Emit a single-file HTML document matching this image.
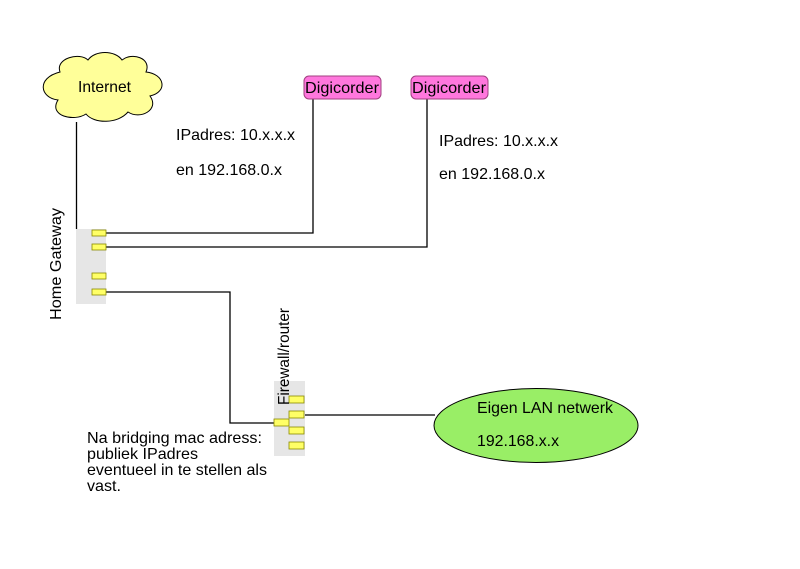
<!DOCTYPE html>
<html><head><style>html,body{margin:0;padding:0;background:#fff}</style></head><body>
<svg width="800" height="564" viewBox="0 0 800 564" xmlns="http://www.w3.org/2000/svg" font-family="Liberation Sans, sans-serif" font-size="16">
<rect width="800" height="564" fill="#fff"/>
<path d="M60,72 C55,58 80,52 88,60 C95,50 115,50 122,60 C132,52 152,58 146,72 C165,74 168,92 150,96 C160,110 140,120 128,112 C118,124 94,124 86,114 C74,122 48,116 58,100 C40,98 36,78 60,72 Z" fill="#ffff99" stroke="#000" stroke-width="1"/>
<text x="78" y="92" textLength="53" lengthAdjust="spacingAndGlyphs">Internet</text>
<g fill="none" stroke="#000" stroke-width="1.3">
<path d="M76.5,122 V229"/>
<path d="M106,233 H313 V98"/>
<path d="M106,247 H427 V98"/>
<path d="M106,292 H230 V423 H274"/>
<path d="M304,415 H435"/>
</g>
<rect x="76" y="229" width="30" height="75" fill="#e6e6e6"/>
<g fill="#ffff66" stroke="#8a8a00" stroke-width="0.8">
<rect x="92" y="230" width="14" height="6"/><rect x="92" y="244" width="14" height="6"/>
<rect x="92" y="273" width="14" height="6"/><rect x="92" y="289" width="14" height="6"/>
</g>
<text transform="translate(61,320) rotate(-90)" textLength="112" lengthAdjust="spacingAndGlyphs">Home Gateway</text>
<rect x="274" y="381" width="31" height="75" fill="#e6e6e6"/>
<g fill="#ffff66" stroke="#8a8a00" stroke-width="0.8">
<rect x="289" y="396" width="15" height="7"/><rect x="289" y="411" width="15" height="7"/>
<rect x="289" y="427" width="15" height="7"/><rect x="289" y="442" width="15" height="7"/>
<rect x="274" y="419" width="15" height="7"/>
</g>
<text transform="translate(289,405) rotate(-90)" textLength="97" lengthAdjust="spacingAndGlyphs">Firewall/router</text>
<rect x="304" y="76" width="77" height="23" rx="5" fill="#ff77dd" stroke="#a04080"/>
<text x="305" y="93" textLength="74" lengthAdjust="spacingAndGlyphs">Digicorder</text>
<rect x="411" y="76" width="77" height="23" rx="5" fill="#ff77dd" stroke="#a04080"/>
<text x="412" y="93" textLength="74" lengthAdjust="spacingAndGlyphs">Digicorder</text>
<text x="176" y="140" textLength="119" lengthAdjust="spacingAndGlyphs">IPadres: 10.x.x.x</text>
<text x="176" y="175" textLength="106" lengthAdjust="spacingAndGlyphs">en 192.168.0.x</text>
<text x="439" y="146" textLength="119" lengthAdjust="spacingAndGlyphs">IPadres: 10.x.x.x</text>
<text x="439" y="179" textLength="106" lengthAdjust="spacingAndGlyphs">en 192.168.0.x</text>
<ellipse cx="536" cy="425.5" rx="102" ry="37" fill="#99ee66" stroke="#000"/>
<text x="477" y="413" textLength="136" lengthAdjust="spacingAndGlyphs">Eigen LAN netwerk</text>
<text x="477" y="446" textLength="82" lengthAdjust="spacingAndGlyphs">192.168.x.x</text>
<text x="87" y="443" textLength="175" lengthAdjust="spacingAndGlyphs">Na bridging mac adress:</text>
<text x="87" y="459" textLength="111" lengthAdjust="spacingAndGlyphs">publiek IPadres</text>
<text x="87" y="475" textLength="180" lengthAdjust="spacingAndGlyphs">eventueel in te stellen als</text>
<text x="87" y="491" textLength="34" lengthAdjust="spacingAndGlyphs">vast.</text>
</svg>
</body></html>
